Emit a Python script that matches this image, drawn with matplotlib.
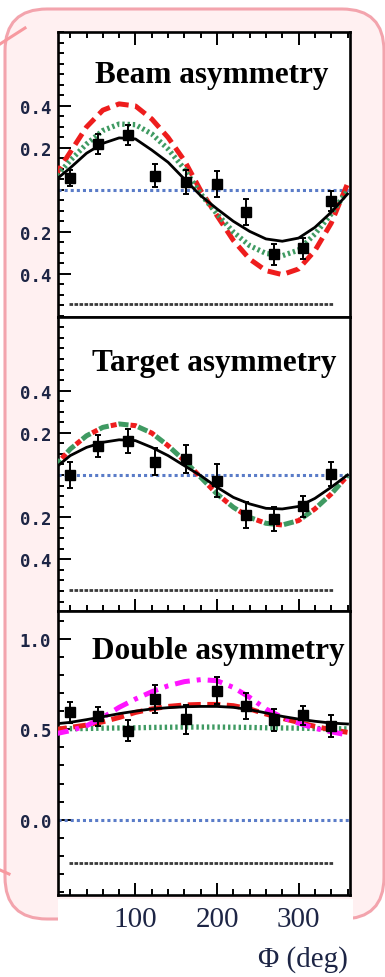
import matplotlib
matplotlib.use('Agg')
import matplotlib.pyplot as plt
from matplotlib.patches import FancyBboxPatch, Rectangle
from matplotlib.lines import Line2D
from matplotlib.transforms import IdentityTransform
from matplotlib.ticker import MultipleLocator, FixedLocator

# angles of the data points and of the sampled model curves (deg)
phi_pts = [20, 54, 91, 124, 162, 200, 235, 270, 306, 340]
phi_curve = [0, 20, 40, 60, 80, 100, 120, 140, 160, 180,
             200, 220, 240, 260, 280, 300, 320, 340, 360]
band_phi = [18, 342]

# beam asymmetry
beam_pts = [0.057, 0.219, 0.263, 0.068, 0.037, 0.029, -0.106, -0.305, -0.278, -0.051]
beam_err = [0.040, 0.048, 0.048, 0.056, 0.056, 0.063, 0.061, 0.050, 0.050, 0.048]
beam_fit = [0.041, 0.105, 0.175, 0.222, 0.248, 0.243, 0.190, 0.132, 0.052, -0.027,
            -0.090, -0.149, -0.197, -0.233, -0.244, -0.229, -0.178, -0.106, -0.019]
beam_red = [0.060, 0.180, 0.300, 0.380, 0.410, 0.400, 0.338, 0.250, 0.140, -0.003,
            -0.122, -0.240, -0.329, -0.384, -0.403, -0.376, -0.289, -0.158, 0.030]
beam_green = [0.052, 0.140, 0.219, 0.283, 0.314, 0.311, 0.267, 0.195, 0.100, -0.019,
              -0.114, -0.200, -0.265, -0.302, -0.313, -0.286, -0.210, -0.114, -0.003]

# target asymmetry
target_pts = [0.000, 0.139, 0.160, 0.063, 0.076, -0.027, -0.190, -0.209, -0.149, 0.005]
target_err = [0.060, 0.053, 0.058, 0.063, 0.067, 0.077, 0.062, 0.055, 0.050, 0.057]
target_fit = [0.028, 0.092, 0.131, 0.155, 0.167, 0.163, 0.131, 0.092, 0.044, -0.003,
              -0.058, -0.106, -0.137, -0.158, -0.161, -0.149, -0.111, -0.058, 0.000]
target_model = [0.036, 0.123, 0.186, 0.226, 0.242, 0.234, 0.199, 0.139, 0.068, -0.011,
                -0.090, -0.153, -0.201, -0.229, -0.237, -0.216, -0.161, -0.090, -0.003]

# double asymmetry
double_pts = [0.593, 0.571, 0.492, 0.667, 0.556, 0.713, 0.630, 0.553, 0.578, 0.519]
double_err = [0.057, 0.053, 0.058, 0.075, 0.080, 0.074, 0.072, 0.060, 0.052, 0.062]
double_fit = [0.529, 0.538, 0.553, 0.569, 0.586, 0.600, 0.612, 0.619, 0.624, 0.626,
              0.626, 0.621, 0.608, 0.590, 0.571, 0.556, 0.544, 0.534, 0.529]
double_red = [0.497, 0.510, 0.523, 0.541, 0.565, 0.593, 0.612, 0.626, 0.634, 0.637,
              0.637, 0.630, 0.612, 0.584, 0.560, 0.538, 0.516, 0.497, 0.483]
double_green = [0.502, 0.503, 0.504, 0.506, 0.507, 0.508, 0.510, 0.511, 0.512, 0.512,
                0.512, 0.511, 0.510, 0.508, 0.507, 0.506, 0.504, 0.503, 0.502]
double_magenta = [0.473, 0.492, 0.519, 0.565, 0.621, 0.667, 0.707, 0.740, 0.763, 0.774,
                  0.768, 0.731, 0.676, 0.612, 0.565, 0.534, 0.505, 0.486, 0.468]

sys_level = [-0.543, -0.544, -0.241]

titles = ['Beam asymmetry', 'Target asymmetry', 'Double asymmetry']
asym_ticks = [-0.4, -0.2, 0.2, 0.4]
asym_labels = ['0.4', '0.2', '0.2', '0.4']
dbl_ticks = [0.0, 0.5, 1.0]
dbl_labels = ['0.0', '0.5', '1.0']
x_ticks = [100, 200, 300]
x_labels = ['100', '200', '300']

RED = '#ee1d1d'
GREEN = '#3f9a62'
BLUE = '#5a7cc8'
MAG = '#ff14ff'
LABEL_COL = '#1d2545'

fig = plt.figure(figsize=(3.85, 9.78), dpi=100)

# pink rounded callout box behind the plot (pixel coords)
box = FancyBboxPatch((5, 58), 379, 910, boxstyle='round,pad=0,rounding_size=42',
                     transform=IdentityTransform(), facecolor='#fff0f1',
                     edgecolor='#f3a4ad', linewidth=2.2, zorder=-3)
fig.add_artist(box)
fig.add_artist(Line2D([0, 25], [933, 949], transform=IdentityTransform(),
                      color='#f7999f', lw=2.2, zorder=-2))
fig.add_artist(Line2D([0, 9], [107, 103], transform=IdentityTransform(),
                      color='#f7999f', lw=2.2, zorder=-2))
fig.add_artist(Rectangle((58, 0), 295, 78, transform=IdentityTransform(),
                         facecolor='white', edgecolor='none', zorder=-1))

rects = [[0.1506, 0.6748, 0.7584, 0.2914],
         [0.1506, 0.3742, 0.7584, 0.3006],
         [0.1506, 0.0838, 0.7584, 0.2904]]
ylims = [(-0.605, 0.752), (-0.645, 0.749), (-0.416, 1.153)]
axes = [fig.add_axes(r) for r in rects]

for i, ax in enumerate(axes):
    ax.set_xlim(5, 363)
    ax.set_ylim(*ylims[i])
    ax.set_facecolor('white')
    for s in ax.spines.values():
        s.set_linewidth(1.9)
    ax.xaxis.set_minor_locator(MultipleLocator(20))
    ax.set_xticks(x_ticks)
    ax.tick_params(which='both', direction='in', width=1.4, right=False,
                   top=(i == 0), bottom=(i > 0), labelbottom=(i == 2))
    ax.tick_params(which='major', length=9)
    ax.tick_params(which='minor', length=4.5)
    if i < 2:
        ax.yaxis.set_major_locator(FixedLocator(asym_ticks))
        ax.set_yticklabels(asym_labels)
        ax.yaxis.set_minor_locator(MultipleLocator(0.05))
    else:
        ax.yaxis.set_major_locator(FixedLocator(dbl_ticks))
        ax.set_yticklabels(dbl_labels)
        ax.yaxis.set_minor_locator(MultipleLocator(0.1))
    for lab in ax.get_yticklabels():
        lab.set_fontfamily('DejaVu Sans Mono')
        lab.set_fontweight('bold')
        lab.set_fontsize(12.5)
        lab.set_color(LABEL_COL)
    ax.tick_params(axis='y', pad=5)
    ax.axhline(0, color=BLUE, lw=2.2, linestyle=(0, (1.0, 1.0)), zorder=2)
    ax.plot(band_phi, [sys_level[i]] * 2, color='#3a3a3a', lw=2.0,
            linestyle=(0, (1.3, 0.5)), zorder=2)

ax3 = axes[2]
ax3.set_xticklabels(x_labels, family='Liberation Serif', fontsize=21, color=LABEL_COL)
ax3.tick_params(axis='x', pad=8)

# beam
a = axes[0]
a.plot(phi_curve, beam_red, color=RED, lw=3.6, linestyle=(0, (2.6, 1.3)), zorder=3)
a.plot(phi_curve, beam_green, color=GREEN, lw=3.8, linestyle=(0, (0.45, 0.55)), zorder=3)
a.plot(phi_curve, beam_fit, color='black', lw=2.0, zorder=4)
a.errorbar(phi_pts, beam_pts, yerr=beam_err, fmt='s', color='black', ms=7.5,
           elinewidth=1.4, capsize=2.5, capthick=1.4, zorder=5)

# target
a = axes[1]
a.plot(phi_curve, target_model, color=GREEN, lw=3.6, linestyle=(0, (2.0, 2.0)), zorder=3)
a.plot(phi_curve, target_model, color=RED, lw=3.6, linestyle=(1.6, (1.2, 2.8)), zorder=3)
a.plot(phi_curve, target_fit, color='black', lw=2.0, zorder=4)
a.errorbar(phi_pts, target_pts, yerr=target_err, fmt='s', color='black', ms=7.5,
           elinewidth=1.4, capsize=2.5, capthick=1.4, zorder=5)

# double
a = axes[2]
a.plot(phi_curve, double_green, color=GREEN, lw=3.8, linestyle=(0, (0.45, 0.55)), zorder=3)
a.plot(phi_curve, double_red, color=RED, lw=3.6, linestyle=(0, (2.6, 1.3)), zorder=3)
a.plot(phi_curve, double_magenta, color=MAG, lw=3.6,
       linestyle=(0, (3.0, 1.4, 0.8, 1.4)), zorder=3)
a.plot(phi_curve, double_fit, color='black', lw=2.0, zorder=4)
a.errorbar(phi_pts, double_pts, yerr=double_err, fmt='s', color='black', ms=7.5,
           elinewidth=1.4, capsize=2.5, capthick=1.4, zorder=5)

title_pos = [(212, 75), (214, 364), (218, 652)]
for t, (px, py) in zip(titles, title_pos):
    fig.text(px / 385, 1 - py / 978, t, ha='center', va='center',
             family='Liberation Serif', fontweight='bold', fontsize=22.5, color='black')

fig.text(348 / 385, 1 - 960 / 978, '\u03a6 (deg)', ha='right', va='center',
         family='Liberation Serif', fontsize=21, color=LABEL_COL)

fig.savefig('out.png', dpi=100)
